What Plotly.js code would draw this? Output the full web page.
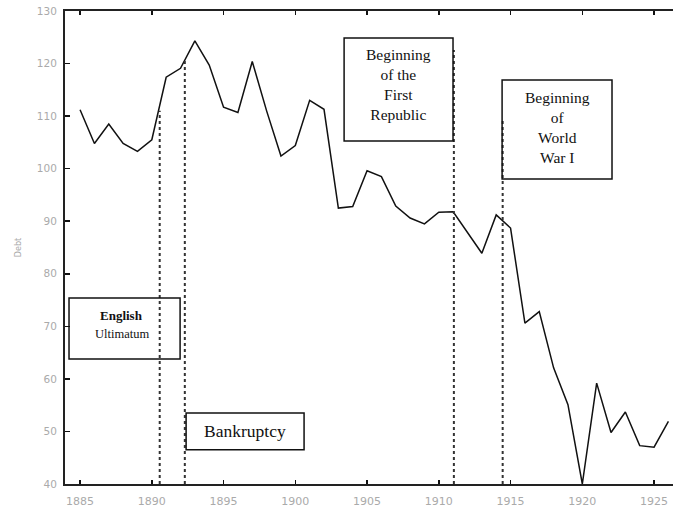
<!DOCTYPE html>
<html>
<head>
<meta charset="utf-8">
<script src="https://cdn.plot.ly/plotly-3.0.1.min.js"></script>
<style>html,body{margin:0;padding:0;background:#fff;}#chart{width:673px;height:508px;}</style>
</head>
<body>
<div id="chart"></div>
<script>
var years = [1885,1886,1887,1888,1889,1890,1891,1892,1893,1894,1895,1896,1897,1898,1899,1900,1901,1902,1903,1904,1905,1906,1907,1908,1909,1910,1911,1912,1913,1914,1915,1916,1917,1918,1919,1920,1921,1922,1923,1924,1925,1926];
var debt = [111.2,104.8,108.5,104.8,103.3,105.5,117.4,119.1,124.3,119.7,111.7,110.7,120.4,111.0,102.4,104.4,113.0,111.3,92.5,92.8,99.6,98.5,92.9,90.6,89.5,91.7,91.8,87.8,83.9,91.2,88.7,70.6,72.8,62.1,55.1,40.0,59.2,49.8,53.7,47.3,47.0,51.9];
var xTicks = [1885,1890,1895,1900,1905,1910,1915,1920,1925];

var eventX = [1890.55, 1892.3, 1911.05, 1914.45];
var eventTop = [111.0, 120.5, 122.6, 109.3];

var labelText = ["<b>English</b>", "Ultimatum", "Bankruptcy", "Beginning<br>of the<br>First<br>Republic", "Beginning<br>of<br>World<br>War I"];
var labelX = [1887.9, 1887.9, 1896.5, 1907.2, 1918.25];
var labelY = [72.0, 68.6, 50.1, 116.0, 107.9];
var labelSize = [13, 12.5, 17.5, 15.5, 15.5];

var boxX0 = [1884.23, 1892.39, 1903.40, 1914.41];
var boxX1 = [1891.97, 1900.61, 1910.99, 1922.07];
var boxY0 = [63.8, 46.5, 105.27, 98.04];
var boxY1 = [75.4, 53.5, 124.86, 116.87];

var shapes = [];
for (var i = 0; i < eventX.length; i++) {
  shapes.push({type:'line', xref:'x', yref:'y', x0:eventX[i], x1:eventX[i], y0:40, y1:eventTop[i],
    line:{color:'#333', width:2, dash:'dot'}});
}
for (var j = 0; j < boxX0.length; j++) {
  shapes.push({type:'rect', xref:'x', yref:'y', x0:boxX0[j], x1:boxX1[j], y0:boxY0[j], y1:boxY1[j],
    line:{color:'#111', width:1.5}, fillcolor:'rgba(0,0,0,0)'});
}
var annotations = [];
for (var k = 0; k < labelText.length; k++) {
  annotations.push({x:labelX[k], y:labelY[k], xref:'x', yref:'y', text:labelText[k], showarrow:false,
    align:'center', font:{family:'Liberation Serif, Times New Roman, serif', size:labelSize[k], color:'#111'}});
}

var trace = {x:years, y:debt, type:'scatter', mode:'lines', line:{color:'#111', width:1.5}, hoverinfo:'skip', cliponaxis:true};

var layout = {
  width:673, height:508,
  margin:{l:65, r:0, t:11, b:24, pad:0},
  paper_bgcolor:'#fff', plot_bgcolor:'#fff',
  showlegend:false,
  xaxis:{range:[1883.95,1926.32], tickvals:xTicks, ticks:'inside', ticklen:4, tickwidth:1.5, tickcolor:'#111',
    showline:true, linewidth:2, linecolor:'#222', mirror:'ticks', showgrid:false, zeroline:false,
    ticklabelstandoff:6,
    tickfont:{family:'DejaVu Sans, sans-serif', size:11, color:'#aaa'}},
  yaxis:{range:[40,130], dtick:10, tick0:40, ticks:'inside', ticklen:5, tickwidth:1.5, tickcolor:'#111',
    showline:true, linewidth:2, linecolor:'#222', mirror:false, showgrid:false, zeroline:false,
    ticklabelstandoff:4,
    tickfont:{family:'DejaVu Sans, sans-serif', size:10.5, color:'#aaa'},
    title:{text:'Debt', standoff:14, font:{family:'DejaVu Sans, sans-serif', size:8, color:'#aaa'}}},
  shapes:shapes,
  annotations:annotations
};
Plotly.newPlot('chart', [trace], layout, {displayModeBar:false, staticPlot:true});
</script>
</body>
</html>
